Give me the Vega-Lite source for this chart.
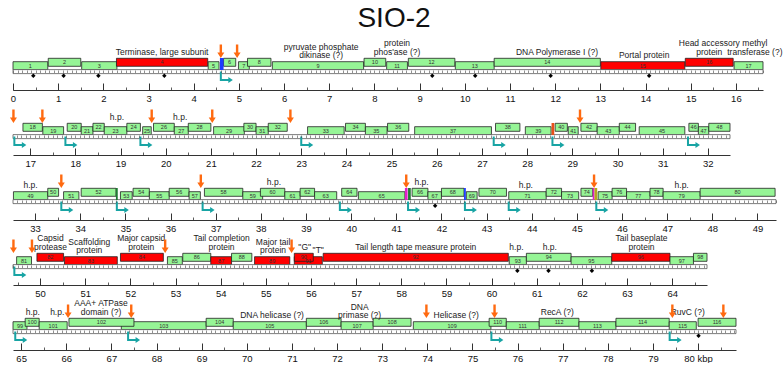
{
"$schema": "https://vega.github.io/schema/vega-lite/v6.json",
"background": "white",
"padding": {"left": 9, "top": 5, "right": 0, "bottom": 0},
"title": {"text": "SIO-2", "fontSize": 28, "fontWeight": "normal", "font": "Liberation Sans", "anchor": "start", "align": "center", "dx": 381, "frame": "group", "offset": 4, "color": "#111"},
"config": {"font": "Liberation Sans", "view": {"stroke": null}},
"bounds": "flush",
"spacing": 0,
"datasets": {
"rows": [
{"row":1,"start":0,"end":16.6},
{"row":2,"start":16.62,"end":32.49},
{"row":3,"start":32.51,"end":49.41},
{"row":4,"start":49.4,"end":64.77},
{"row":5,"start":64.82,"end":80.84}
],
"genes": [
{"gene":1,"start":0.0,"end":0.77,"lane":0,"class":"other","row":1},
{"gene":2,"start":0.78,"end":1.5,"lane":1,"class":"other","row":1},
{"gene":3,"start":1.52,"end":2.3,"lane":0,"class":"other","row":1},
{"gene":4,"start":2.29,"end":4.31,"lane":1,"class":"structural","row":1},
{"gene":5,"start":4.32,"end":4.56,"lane":0,"class":"other","row":1},
{"gene":6,"start":4.66,"end":4.93,"lane":1,"class":"other","row":1},
{"gene":7,"start":4.99,"end":5.23,"lane":0,"class":"other","row":1},
{"gene":8,"start":5.19,"end":5.71,"lane":1,"class":"other","row":1},
{"gene":9,"start":5.74,"end":7.76,"lane":0,"class":"other","row":1},
{"gene":10,"start":7.77,"end":8.25,"lane":1,"class":"other","row":1},
{"gene":11,"start":8.27,"end":8.73,"lane":0,"class":"other","row":1},
{"gene":12,"start":8.75,"end":9.78,"lane":1,"class":"other","row":1},
{"gene":13,"start":9.79,"end":10.65,"lane":0,"class":"other","row":1},
{"gene":14,"start":10.65,"end":13.0,"lane":1,"class":"other","row":1},
{"gene":15,"start":13.01,"end":14.87,"lane":0,"class":"structural","row":1},
{"gene":16,"start":14.88,"end":15.94,"lane":1,"class":"structural","row":1},
{"gene":17,"start":15.96,"end":16.6,"lane":0,"class":"other","row":1},
{"gene":18,"start":16.84,"end":17.27,"lane":1,"class":"other","row":2},
{"gene":19,"start":17.28,"end":17.74,"lane":0,"class":"other","row":2},
{"gene":20,"start":17.82,"end":18.13,"lane":1,"class":"other","row":2},
{"gene":21,"start":18.13,"end":18.39,"lane":0,"class":"other","row":2},
{"gene":22,"start":18.39,"end":18.64,"lane":1,"class":"other","row":2},
{"gene":23,"start":18.64,"end":19.14,"lane":0,"class":"other","row":2},
{"gene":24,"start":19.14,"end":19.44,"lane":1,"class":"other","row":2},
{"gene":25,"start":19.49,"end":19.68,"lane":0,"class":"other","row":2},
{"gene":26,"start":19.73,"end":20.19,"lane":1,"class":"other","row":2},
{"gene":27,"start":20.19,"end":20.5,"lane":0,"class":"other","row":2},
{"gene":28,"start":20.5,"end":21.0,"lane":1,"class":"other","row":2},
{"gene":29,"start":21.06,"end":21.74,"lane":0,"class":"other","row":2},
{"gene":30,"start":21.73,"end":22.0,"lane":1,"class":"other","row":2},
{"gene":31,"start":22.0,"end":22.27,"lane":0,"class":"other","row":2},
{"gene":32,"start":22.27,"end":22.69,"lane":1,"class":"other","row":2},
{"gene":33,"start":23.14,"end":23.95,"lane":0,"class":"other","row":2},
{"gene":34,"start":23.98,"end":24.42,"lane":1,"class":"other","row":2},
{"gene":35,"start":24.42,"end":24.9,"lane":0,"class":"other","row":2},
{"gene":36,"start":24.91,"end":25.38,"lane":1,"class":"other","row":2},
{"gene":37,"start":25.51,"end":27.21,"lane":0,"class":"other","row":2},
{"gene":38,"start":27.3,"end":27.84,"lane":1,"class":"other","row":2},
{"gene":39,"start":27.96,"end":28.53,"lane":0,"class":"other","row":2},
{"gene":40,"start":28.62,"end":28.89,"lane":1,"class":"other","row":2},
{"gene":41,"start":28.91,"end":29.13,"lane":0,"class":"other","row":2},
{"gene":42,"start":29.19,"end":29.55,"lane":1,"class":"other","row":2},
{"gene":43,"start":29.55,"end":30.04,"lane":0,"class":"other","row":2},
{"gene":44,"start":30.04,"end":30.4,"lane":1,"class":"other","row":2},
{"gene":45,"start":30.48,"end":31.49,"lane":0,"class":"other","row":2},
{"gene":46,"start":31.58,"end":31.79,"lane":1,"class":"other","row":2},
{"gene":47,"start":31.79,"end":32.02,"lane":0,"class":"other","row":2},
{"gene":48,"start":32.02,"end":32.49,"lane":1,"class":"other","row":2},
{"gene":49,"start":32.52,"end":33.28,"lane":0,"class":"other","row":3},
{"gene":50,"start":33.28,"end":33.52,"lane":1,"class":"other","row":3},
{"gene":51,"start":33.63,"end":33.97,"lane":0,"class":"other","row":3},
{"gene":52,"start":34.02,"end":34.79,"lane":1,"class":"other","row":3},
{"gene":53,"start":34.89,"end":35.15,"lane":0,"class":"other","row":3},
{"gene":54,"start":35.17,"end":35.53,"lane":1,"class":"other","row":3},
{"gene":55,"start":35.53,"end":35.97,"lane":0,"class":"other","row":3},
{"gene":56,"start":35.97,"end":36.41,"lane":1,"class":"other","row":3},
{"gene":57,"start":36.41,"end":36.66,"lane":0,"class":"other","row":3},
{"gene":58,"start":36.75,"end":37.6,"lane":1,"class":"other","row":3},
{"gene":59,"start":37.6,"end":38.04,"lane":0,"class":"other","row":3},
{"gene":60,"start":37.99,"end":38.53,"lane":1,"class":"other","row":3},
{"gene":61,"start":38.53,"end":38.87,"lane":0,"class":"other","row":3},
{"gene":62,"start":38.87,"end":39.19,"lane":1,"class":"other","row":3},
{"gene":63,"start":39.19,"end":39.68,"lane":0,"class":"other","row":3},
{"gene":64,"start":39.79,"end":40.13,"lane":1,"class":"other","row":3},
{"gene":65,"start":40.16,"end":41.19,"lane":0,"class":"other","row":3},
{"gene":66,"start":41.35,"end":41.7,"lane":1,"class":"other","row":3},
{"gene":67,"start":41.7,"end":42.0,"lane":0,"class":"other","row":3},
{"gene":68,"start":42.0,"end":42.5,"lane":1,"class":"other","row":3},
{"gene":69,"start":42.55,"end":42.79,"lane":0,"class":"other","row":3},
{"gene":70,"start":42.83,"end":43.44,"lane":1,"class":"other","row":3},
{"gene":71,"start":43.49,"end":44.32,"lane":0,"class":"other","row":3},
{"gene":72,"start":44.32,"end":44.66,"lane":1,"class":"other","row":3},
{"gene":73,"start":44.66,"end":45.04,"lane":0,"class":"other","row":3},
{"gene":74,"start":45.09,"end":45.35,"lane":1,"class":"other","row":3},
{"gene":75,"start":45.47,"end":45.78,"lane":0,"class":"other","row":3},
{"gene":76,"start":45.78,"end":46.1,"lane":1,"class":"other","row":3},
{"gene":77,"start":46.1,"end":46.62,"lane":0,"class":"other","row":3},
{"gene":78,"start":46.62,"end":46.91,"lane":1,"class":"other","row":3},
{"gene":79,"start":46.91,"end":47.73,"lane":0,"class":"other","row":3},
{"gene":80,"start":47.73,"end":49.39,"lane":1,"class":"other","row":3},
{"gene":81,"start":49.48,"end":49.81,"lane":0,"class":"other","row":4},
{"gene":82,"start":49.93,"end":50.52,"lane":1,"class":"structural","row":4},
{"gene":83,"start":50.54,"end":51.71,"lane":0,"class":"structural","row":4},
{"gene":84,"start":51.78,"end":52.73,"lane":1,"class":"structural","row":4},
{"gene":85,"start":52.82,"end":53.15,"lane":0,"class":"other","row":4},
{"gene":86,"start":53.16,"end":53.78,"lane":1,"class":"other","row":4},
{"gene":87,"start":53.78,"end":54.24,"lane":0,"class":"structural","row":4},
{"gene":88,"start":54.24,"end":54.69,"lane":1,"class":"other","row":4},
{"gene":89,"start":54.75,"end":55.53,"lane":0,"class":"structural","row":4},
{"gene":91,"start":55.63,"end":56.25,"lane":0,"class":"structural","row":4},
{"gene":90,"start":55.63,"end":56.05,"lane":1,"class":"structural","row":4},
{"gene":92,"start":56.27,"end":60.37,"lane":1,"class":"structural","row":4},
{"gene":93,"start":60.39,"end":60.77,"lane":0,"class":"other","row":4},
{"gene":94,"start":60.77,"end":61.76,"lane":1,"class":"other","row":4},
{"gene":95,"start":61.76,"end":62.66,"lane":0,"class":"other","row":4},
{"gene":96,"start":62.66,"end":63.95,"lane":1,"class":"structural","row":4},
{"gene":97,"start":63.95,"end":64.47,"lane":0,"class":"other","row":4},
{"gene":98,"start":64.47,"end":64.77,"lane":1,"class":"other","row":4},
{"gene":99,"start":64.82,"end":65.13,"lane":0,"class":"other","row":5},
{"gene":100,"start":65.09,"end":65.4,"lane":1,"class":"other","row":5},
{"gene":101,"start":65.4,"end":66.02,"lane":0,"class":"other","row":5},
{"gene":103,"start":67.22,"end":69.1,"lane":0,"class":"other","row":5},
{"gene":102,"start":66.06,"end":67.5,"lane":1,"class":"other","row":5},
{"gene":104,"start":69.1,"end":69.7,"lane":1,"class":"other","row":5},
{"gene":105,"start":69.7,"end":71.32,"lane":0,"class":"other","row":5},
{"gene":106,"start":71.32,"end":72.09,"lane":1,"class":"other","row":5},
{"gene":107,"start":72.09,"end":72.8,"lane":0,"class":"other","row":5},
{"gene":108,"start":72.8,"end":73.64,"lane":1,"class":"other","row":5},
{"gene":109,"start":73.69,"end":75.41,"lane":0,"class":"other","row":5},
{"gene":110,"start":75.37,"end":75.75,"lane":1,"class":"other","row":5},
{"gene":111,"start":75.75,"end":76.48,"lane":0,"class":"other","row":5},
{"gene":112,"start":76.48,"end":77.36,"lane":1,"class":"other","row":5},
{"gene":113,"start":77.36,"end":78.18,"lane":0,"class":"other","row":5},
{"gene":114,"start":78.18,"end":79.36,"lane":1,"class":"other","row":5},
{"gene":115,"start":79.36,"end":79.96,"lane":0,"class":"other","row":5},
{"gene":116,"start":80.0,"end":80.84,"lane":1,"class":"other","row":5}
],
"trna": [
{"start":4.58,"end":4.66,"class":"tRNA-1","row":1},
{"start":28.54,"end":28.6,"class":"tRNA-2","row":2},
{"start":34.79,"end":34.83,"class":"tRNA-4","row":3},
{"start":41.19,"end":41.25,"class":"tRNA-3","row":3},
{"start":41.26,"end":41.32,"class":"tRNA-4","row":3},
{"start":42.5,"end":42.54,"class":"tRNA-1","row":3},
{"start":45.35,"end":45.39,"class":"tRNA-3","row":3},
{"start":45.39,"end":45.45,"class":"tRNA-5","row":3}
],
"labels": [
{"text":["Terminase, large subunit"],"pos":3.3,"lane":1,"row":1},
{"text":["pyruvate phosphate","dikinase (?)"],"pos":6.82,"lane":0,"row":1},
{"text":["protein","phos'ase (?)"],"pos":8.5,"lane":1,"row":1},
{"text":["DNA Polymerase I (?)"],"pos":12.04,"lane":1,"row":1},
{"text":["Portal protein"],"pos":13.97,"lane":0,"row":1},
{"text":["Head accessory","protein"],"pos":15.41,"lane":1,"row":1},
{"text":["methyl","transferase (?)"],"pos":16.42,"lane":1,"row":1},
{"text":["h.p."],"pos":18.92,"lane":1,"row":2},
{"text":["h.p."],"pos":20.32,"lane":1,"row":2},
{"text":["h.p."],"pos":32.9,"lane":0,"row":3},
{"text":["h.p."],"pos":38.29,"lane":1,"row":3},
{"text":["h.p."],"pos":41.56,"lane":1,"row":3},
{"text":["h.p."],"pos":43.87,"lane":0,"row":3},
{"text":["h.p."],"pos":47.32,"lane":0,"row":3},
{"text":["Capsid","protease"],"pos":50.23,"lane":1,"row":4},
{"text":["Scaffolding","protein"],"pos":51.09,"lane":0,"row":4},
{"text":["Major capsid","protein"],"pos":52.24,"lane":1,"row":4},
{"text":["Tail completion","protein"],"pos":54.02,"lane":1,"row":4},
{"text":["Major tail","protein"],"pos":55.16,"lane":0,"row":4},
{"text":["\"G\""],"pos":55.86,"lane":1,"row":4},
{"text":["\"T\""],"pos":56.16,"lane":0,"row":4},
{"text":["Tail length tape measure protein"],"pos":58.32,"lane":1,"row":4},
{"text":["h.p."],"pos":60.55,"lane":1,"row":4},
{"text":["h.p."],"pos":61.29,"lane":1,"row":4},
{"text":["Tail baseplate","protein"],"pos":63.32,"lane":1,"row":4},
{"text":["h.p."],"pos":65.26,"lane":1,"row":5},
{"text":["h.p."],"pos":65.8,"lane":1,"row":5},
{"text":["AAA+ ATPase","domain (?)"],"pos":66.77,"lane":1,"row":5},
{"text":["DNA helicase (?)"],"pos":70.56,"lane":0,"row":5},
{"text":["DNA","primase (?)"],"pos":72.5,"lane":0,"row":5},
{"text":["Helicase (?)"],"pos":74.64,"lane":0,"row":5},
{"text":["RecA (?)"],"pos":76.88,"lane":1,"row":5},
{"text":["RuvC (?)"],"pos":79.77,"lane":1,"row":5}
],
"sites": [
{"pos":4.6,"row":1},{"pos":4.96,"row":1},
{"pos":16.63,"row":2},{"pos":17.27,"row":2},{"pos":19.69,"row":2},{"pos":21.03,"row":2},{"pos":22.76,"row":2},{"pos":29.17,"row":2},
{"pos":33.58,"row":3},{"pos":36.67,"row":3},{"pos":41.22,"row":3},{"pos":45.38,"row":3},
{"pos":49.41,"row":4},{"pos":49.82,"row":4},{"pos":52.77,"row":4},{"pos":55.57,"row":4},
{"pos":66.04,"row":5},{"pos":67.44,"row":5},{"pos":73.98,"row":5},{"pos":75.49,"row":5},{"pos":79.43,"row":5},{"pos":80.56,"row":5}
],
"promoters": [
{"pos":4.6,"row":1},
{"pos":16.65,"row":2},{"pos":17.78,"row":2},{"pos":19.44,"row":2},{"pos":23.0,"row":2},{"pos":27.26,"row":2},{"pos":28.56,"row":2},{"pos":31.56,"row":2},
{"pos":33.58,"row":3},{"pos":34.81,"row":3},{"pos":36.71,"row":3},{"pos":39.75,"row":3},{"pos":41.26,"row":3},{"pos":42.52,"row":3},{"pos":43.49,"row":3},{"pos":45.43,"row":3},
{"pos":49.43,"row":4},
{"pos":64.87,"row":5},{"pos":67.37,"row":5},{"pos":75.42,"row":5},{"pos":79.37,"row":5}
],
"diamonds": [
{"pos":0.45,"row":1},{"pos":1.12,"row":1},{"pos":1.89,"row":1},{"pos":3.35,"row":1},{"pos":9.28,"row":1},{"pos":10.23,"row":1},{"pos":11.9,"row":1},{"pos":14.08,"row":1},
{"pos":41.86,"row":3},
{"pos":60.57,"row":4},{"pos":61.26,"row":4},{"pos":62.22,"row":4},
{"pos":80.01,"row":5}
]
},
"vconcat": [
{
"width": 750, "height": 65,
"resolve": {"axis": {"x": "independent"}},
"layer": [
{"data": {"name": "genes"}, "transform": [{"filter": "datum.row == 1"}],
 "mark": {"type": "bar", "height": 8, "stroke": "#222", "strokeWidth": 0.8},
 "encoding": {
  "x": {"field": "start", "type": "quantitative", "scale": {"domain": [0, 16.6], "nice": false, "zero": false},
        "axis": {"orient": "bottom", "offset": -12, "values": [0,1,2,3,4,5,6,7,8,9,10,11,12,13,14,15,16], "tickSize": -7, "tickWidth": 1, "tickColor": "#333", "domainColor": "#333", "domainWidth": 1, "labelPadding": 10, "labelFontSize": 9.5, "labelColor": "#111", "title": null, "grid": false, "labelOverlap": false, "labelFlush": false}},
  "x2": {"field": "end"},
  "y": {"field": "lane", "type": "quantitative", "scale": {"domain": [-9.25, 7], "nice": false, "zero": false}, "axis": null},
  "color": {"field": "class", "type": "nominal", "legend": null, "scale": {"domain": ["structural","other","tRNA-1","tRNA-2","tRNA-3","tRNA-4","tRNA-5"], "range": ["#ff0000","#96f596","#1d3cff","#e8501a","#e020c8","#1e7a32","#b4a81e"]}}
 }},
{"data": {"name": "rows"}, "transform": [{"filter": "datum.row == 1"}],
 "mark": {"type": "bar", "height": 4, "fill": "white", "stroke": "#444", "strokeWidth": 0.7},
 "encoding": {
  "x": {"field": "start", "type": "quantitative", "axis": {"orient": "bottom", "offset": -32, "tickCount": 166, "tickSize": 2.5, "tickWidth": 0.6, "tickColor": "#444", "domain": false, "labels": false, "title": null, "grid": false, "zindex": 1}},
  "x2": {"field": "end"},
  "y": {"datum": -1.75, "type": "quantitative", "axis": null}
 }},
{"data": {"name": "trna"}, "transform": [{"filter": "datum.row == 1"}],
 "mark": {"type": "bar", "height": 12},
 "encoding": {
  "x": {"field": "start", "type": "quantitative", "axis": {"orient": "bottom", "offset": -12, "tickCount": 33, "tickSize": -3, "tickWidth": 0.8, "tickColor": "#333", "domain": false, "labels": false, "title": null, "grid": false}},
  "x2": {"field": "end"},
  "y": {"datum": 0.5, "type": "quantitative", "axis": null},
  "color": {"field": "class", "type": "nominal", "legend": null, "scale": {"domain": ["structural","other","tRNA-1","tRNA-2","tRNA-3","tRNA-4","tRNA-5"], "range": ["#ff0000","#96f596","#1d3cff","#e8501a","#e020c8","#1e7a32","#b4a81e"]}}
 }},
{"data": {"name": "genes"}, "transform": [{"filter": "datum.row == 1"}, {"calculate": "(datum.start + datum.end) / 2", "as": "mid"}],
 "mark": {"type": "text", "fontSize": 5.5, "color": "#333"},
 "encoding": {"x": {"field": "mid", "type": "quantitative", "axis": null}, "y": {"field": "lane", "type": "quantitative", "axis": null}, "text": {"field": "gene", "type": "nominal"}}},
{"data": {"name": "labels"}, "transform": [{"filter": "datum.row == 1 && length(datum.text) == 1"}],
 "mark": {"type": "text", "fontSize": 8.5, "lineHeight": 8.5, "baseline": "bottom", "dy": -5.5, "color": "#222"},
 "encoding": {"x": {"field": "pos", "type": "quantitative", "axis": null}, "y": {"field": "lane", "type": "quantitative", "axis": null}, "text": {"field": "text", "type": "nominal"}}},
{"data": {"name": "labels"}, "transform": [{"filter": "datum.row == 1 && length(datum.text) == 2"}],
 "mark": {"type": "text", "fontSize": 8.5, "lineHeight": 8.5, "baseline": "bottom", "dy": -14, "color": "#222"},
 "encoding": {"x": {"field": "pos", "type": "quantitative", "axis": null}, "y": {"field": "lane", "type": "quantitative", "axis": null}, "text": {"field": "text", "type": "nominal"}}},
{"data": {"name": "sites"}, "transform": [{"filter": "datum.row == 1"}],
 "mark": {"type": "point", "shape": "M-0.12,-1.35L0.12,-1.35L0.12,-0.55L0.35,-0.55L0,0L-0.35,-0.55L-0.12,-0.55Z", "size": 400, "filled": true, "color": "#ff6a10", "opacity": 1, "strokeWidth": 0},
 "encoding": {"x": {"field": "pos", "type": "quantitative", "axis": null}, "y": {"datum": 2.25, "type": "quantitative", "axis": null}}},
{"data": {"name": "promoters"}, "transform": [{"filter": "datum.row == 1"}],
 "mark": {"type": "point", "shape": "M-0.1,-0.85L0.1,-0.85L0.1,-0.1L0.75,-0.1L0.75,-0.3L1.2,0L0.75,0.3L0.75,0.1L-0.1,0.1Z", "size": 400, "filled": true, "color": "#18a4a4", "opacity": 1, "strokeWidth": 0},
 "encoding": {"x": {"field": "pos", "type": "quantitative", "axis": null}, "y": {"datum": -4.25, "type": "quantitative", "axis": null}}},
{"data": {"name": "diamonds"}, "transform": [{"filter": "datum.row == 1"}],
 "mark": {"type": "point", "shape": "diamond", "size": 20, "filled": true, "color": "#000", "opacity": 1},
 "encoding": {"x": {"field": "pos", "type": "quantitative", "axis": null}, "y": {"datum": -3, "type": "quantitative", "axis": null}}}
]
},
{
"width": 717, "height": 65,
"resolve": {"axis": {"x": "independent"}},
"layer": [
{"data": {"name": "genes"}, "transform": [{"filter": "datum.row == 2"}],
 "mark": {"type": "bar", "height": 8, "stroke": "#222", "strokeWidth": 0.8},
 "encoding": {
  "x": {"field": "start", "type": "quantitative", "scale": {"domain": [16.62, 32.49], "nice": false, "zero": false},
        "axis": {"orient": "bottom", "offset": -12, "values": [17,18,19,20,21,22,23,24,25,26,27,28,29,30,31,32], "tickSize": -7, "tickWidth": 1, "tickColor": "#333", "domainColor": "#333", "domainWidth": 1, "labelPadding": 10, "labelFontSize": 9.5, "labelColor": "#111", "title": null, "grid": false, "labelOverlap": false, "labelFlush": false}},
  "x2": {"field": "end"},
  "y": {"field": "lane", "type": "quantitative", "scale": {"domain": [-9.25, 7], "nice": false, "zero": false}, "axis": null},
  "color": {"field": "class", "type": "nominal", "legend": null, "scale": {"domain": ["structural","other","tRNA-1","tRNA-2","tRNA-3","tRNA-4","tRNA-5"], "range": ["#ff0000","#96f596","#1d3cff","#e8501a","#e020c8","#1e7a32","#b4a81e"]}}
 }},
{"data": {"name": "rows"}, "transform": [{"filter": "datum.row == 2"}],
 "mark": {"type": "bar", "height": 4, "fill": "white", "stroke": "#444", "strokeWidth": 0.7},
 "encoding": {
  "x": {"field": "start", "type": "quantitative", "axis": {"orient": "bottom", "offset": -32, "tickCount": 159, "tickSize": 2.5, "tickWidth": 0.6, "tickColor": "#444", "domain": false, "labels": false, "title": null, "grid": false, "zindex": 1}},
  "x2": {"field": "end"},
  "y": {"datum": -1.75, "type": "quantitative", "axis": null}
 }},
{"data": {"name": "trna"}, "transform": [{"filter": "datum.row == 2"}],
 "mark": {"type": "bar", "height": 12},
 "encoding": {
  "x": {"field": "start", "type": "quantitative", "axis": {"orient": "bottom", "offset": -12, "tickCount": 32, "tickSize": -3, "tickWidth": 0.8, "tickColor": "#333", "domain": false, "labels": false, "title": null, "grid": false}},
  "x2": {"field": "end"},
  "y": {"datum": 0.5, "type": "quantitative", "axis": null},
  "color": {"field": "class", "type": "nominal", "legend": null, "scale": {"domain": ["structural","other","tRNA-1","tRNA-2","tRNA-3","tRNA-4","tRNA-5"], "range": ["#ff0000","#96f596","#1d3cff","#e8501a","#e020c8","#1e7a32","#b4a81e"]}}
 }},
{"data": {"name": "genes"}, "transform": [{"filter": "datum.row == 2"}, {"calculate": "(datum.start + datum.end) / 2", "as": "mid"}],
 "mark": {"type": "text", "fontSize": 5.5, "color": "#333"},
 "encoding": {"x": {"field": "mid", "type": "quantitative", "axis": null}, "y": {"field": "lane", "type": "quantitative", "axis": null}, "text": {"field": "gene", "type": "nominal"}}},
{"data": {"name": "labels"}, "transform": [{"filter": "datum.row == 2 && length(datum.text) == 1"}],
 "mark": {"type": "text", "fontSize": 8.5, "lineHeight": 8.5, "baseline": "bottom", "dy": -5.5, "color": "#222"},
 "encoding": {"x": {"field": "pos", "type": "quantitative", "axis": null}, "y": {"field": "lane", "type": "quantitative", "axis": null}, "text": {"field": "text", "type": "nominal"}}},
{"data": {"name": "sites"}, "transform": [{"filter": "datum.row == 2"}],
 "mark": {"type": "point", "shape": "M-0.12,-1.35L0.12,-1.35L0.12,-0.55L0.35,-0.55L0,0L-0.35,-0.55L-0.12,-0.55Z", "size": 400, "filled": true, "color": "#ff6a10", "opacity": 1, "strokeWidth": 0},
 "encoding": {"x": {"field": "pos", "type": "quantitative", "axis": null}, "y": {"datum": 2.25, "type": "quantitative", "axis": null}}},
{"data": {"name": "promoters"}, "transform": [{"filter": "datum.row == 2"}],
 "mark": {"type": "point", "shape": "M-0.1,-0.85L0.1,-0.85L0.1,-0.1L0.75,-0.1L0.75,-0.3L1.2,0L0.75,0.3L0.75,0.1L-0.1,0.1Z", "size": 400, "filled": true, "color": "#18a4a4", "opacity": 1, "strokeWidth": 0},
 "encoding": {"x": {"field": "pos", "type": "quantitative", "axis": null}, "y": {"datum": -4.25, "type": "quantitative", "axis": null}}}
]
},
{
"width": 763, "height": 65,
"resolve": {"axis": {"x": "independent"}},
"layer": [
{"data": {"name": "genes"}, "transform": [{"filter": "datum.row == 3"}],
 "mark": {"type": "bar", "height": 8, "stroke": "#222", "strokeWidth": 0.8},
 "encoding": {
  "x": {"field": "start", "type": "quantitative", "scale": {"domain": [32.51, 49.41], "nice": false, "zero": false},
        "axis": {"orient": "bottom", "offset": -12, "values": [33,34,35,36,37,38,39,40,41,42,43,44,45,46,47,48,49], "tickSize": -7, "tickWidth": 1, "tickColor": "#333", "domainColor": "#333", "domainWidth": 1, "labelPadding": 10, "labelFontSize": 9.5, "labelColor": "#111", "title": null, "grid": false, "labelOverlap": false, "labelFlush": false}},
  "x2": {"field": "end"},
  "y": {"field": "lane", "type": "quantitative", "scale": {"domain": [-9.25, 7], "nice": false, "zero": false}, "axis": null},
  "color": {"field": "class", "type": "nominal", "legend": null, "scale": {"domain": ["structural","other","tRNA-1","tRNA-2","tRNA-3","tRNA-4","tRNA-5"], "range": ["#ff0000","#96f596","#1d3cff","#e8501a","#e020c8","#1e7a32","#b4a81e"]}}
 }},
{"data": {"name": "rows"}, "transform": [{"filter": "datum.row == 3"}],
 "mark": {"type": "bar", "height": 4, "fill": "white", "stroke": "#444", "strokeWidth": 0.7},
 "encoding": {
  "x": {"field": "start", "type": "quantitative", "axis": {"orient": "bottom", "offset": -32, "tickCount": 169, "tickSize": 2.5, "tickWidth": 0.6, "tickColor": "#444", "domain": false, "labels": false, "title": null, "grid": false, "zindex": 1}},
  "x2": {"field": "end"},
  "y": {"datum": -1.75, "type": "quantitative", "axis": null}
 }},
{"data": {"name": "trna"}, "transform": [{"filter": "datum.row == 3"}],
 "mark": {"type": "bar", "height": 12},
 "encoding": {
  "x": {"field": "start", "type": "quantitative", "axis": {"orient": "bottom", "offset": -12, "tickCount": 34, "tickSize": -3, "tickWidth": 0.8, "tickColor": "#333", "domain": false, "labels": false, "title": null, "grid": false}},
  "x2": {"field": "end"},
  "y": {"datum": 0.5, "type": "quantitative", "axis": null},
  "color": {"field": "class", "type": "nominal", "legend": null, "scale": {"domain": ["structural","other","tRNA-1","tRNA-2","tRNA-3","tRNA-4","tRNA-5"], "range": ["#ff0000","#96f596","#1d3cff","#e8501a","#e020c8","#1e7a32","#b4a81e"]}}
 }},
{"data": {"name": "genes"}, "transform": [{"filter": "datum.row == 3"}, {"calculate": "(datum.start + datum.end) / 2", "as": "mid"}],
 "mark": {"type": "text", "fontSize": 5.5, "color": "#333"},
 "encoding": {"x": {"field": "mid", "type": "quantitative", "axis": null}, "y": {"field": "lane", "type": "quantitative", "axis": null}, "text": {"field": "gene", "type": "nominal"}}},
{"data": {"name": "labels"}, "transform": [{"filter": "datum.row == 3 && length(datum.text) == 1"}],
 "mark": {"type": "text", "fontSize": 8.5, "lineHeight": 8.5, "baseline": "bottom", "dy": -5.5, "color": "#222"},
 "encoding": {"x": {"field": "pos", "type": "quantitative", "axis": null}, "y": {"field": "lane", "type": "quantitative", "axis": null}, "text": {"field": "text", "type": "nominal"}}},
{"data": {"name": "sites"}, "transform": [{"filter": "datum.row == 3"}],
 "mark": {"type": "point", "shape": "M-0.12,-1.35L0.12,-1.35L0.12,-0.55L0.35,-0.55L0,0L-0.35,-0.55L-0.12,-0.55Z", "size": 400, "filled": true, "color": "#ff6a10", "opacity": 1, "strokeWidth": 0},
 "encoding": {"x": {"field": "pos", "type": "quantitative", "axis": null}, "y": {"datum": 2.25, "type": "quantitative", "axis": null}}},
{"data": {"name": "promoters"}, "transform": [{"filter": "datum.row == 3"}],
 "mark": {"type": "point", "shape": "M-0.1,-0.85L0.1,-0.85L0.1,-0.1L0.75,-0.1L0.75,-0.3L1.2,0L0.75,0.3L0.75,0.1L-0.1,0.1Z", "size": 400, "filled": true, "color": "#18a4a4", "opacity": 1, "strokeWidth": 0},
 "encoding": {"x": {"field": "pos", "type": "quantitative", "axis": null}, "y": {"datum": -4.25, "type": "quantitative", "axis": null}}},
{"data": {"name": "diamonds"}, "transform": [{"filter": "datum.row == 3"}],
 "mark": {"type": "point", "shape": "diamond", "size": 20, "filled": true, "color": "#000", "opacity": 1},
 "encoding": {"x": {"field": "pos", "type": "quantitative", "axis": null}, "y": {"datum": -3, "type": "quantitative", "axis": null}}}
]
},
{
"width": 694, "height": 65,
"resolve": {"axis": {"x": "independent"}},
"layer": [
{"data": {"name": "genes"}, "transform": [{"filter": "datum.row == 4"}],
 "mark": {"type": "bar", "height": 8, "stroke": "#222", "strokeWidth": 0.8},
 "encoding": {
  "x": {"field": "start", "type": "quantitative", "scale": {"domain": [49.4, 64.77], "nice": false, "zero": false},
        "axis": {"orient": "bottom", "offset": -12, "values": [50,51,52,53,54,55,56,57,58,59,60,61,62,63,64], "tickSize": -7, "tickWidth": 1, "tickColor": "#333", "domainColor": "#333", "domainWidth": 1, "labelPadding": 10, "labelFontSize": 9.5, "labelColor": "#111", "title": null, "grid": false, "labelOverlap": false, "labelFlush": false}},
  "x2": {"field": "end"},
  "y": {"field": "lane", "type": "quantitative", "scale": {"domain": [-9.25, 7], "nice": false, "zero": false}, "axis": null},
  "color": {"field": "class", "type": "nominal", "legend": null, "scale": {"domain": ["structural","other","tRNA-1","tRNA-2","tRNA-3","tRNA-4","tRNA-5"], "range": ["#ff0000","#96f596","#1d3cff","#e8501a","#e020c8","#1e7a32","#b4a81e"]}}
 }},
{"data": {"name": "rows"}, "transform": [{"filter": "datum.row == 4"}],
 "mark": {"type": "bar", "height": 4, "fill": "white", "stroke": "#444", "strokeWidth": 0.7},
 "encoding": {
  "x": {"field": "start", "type": "quantitative", "axis": {"orient": "bottom", "offset": -32, "tickCount": 154, "tickSize": 2.5, "tickWidth": 0.6, "tickColor": "#444", "domain": false, "labels": false, "title": null, "grid": false, "zindex": 1}},
  "x2": {"field": "end"},
  "y": {"datum": -1.75, "type": "quantitative", "axis": null}
 }},
{"data": {"name": "genes"}, "transform": [{"filter": "datum.row == 4"}, {"calculate": "(datum.start + datum.end) / 2", "as": "mid"}],
 "mark": {"type": "text", "fontSize": 5.5, "color": "#333"},
 "encoding": {"x": {"field": "mid", "type": "quantitative", "axis": {"orient": "bottom", "offset": -12, "tickCount": 31, "tickSize": -3, "tickWidth": 0.8, "tickColor": "#333", "domain": false, "labels": false, "title": null, "grid": false}}, "y": {"field": "lane", "type": "quantitative", "axis": null}, "text": {"field": "gene", "type": "nominal"}}},
{"data": {"name": "labels"}, "transform": [{"filter": "datum.row == 4 && length(datum.text) == 1"}],
 "mark": {"type": "text", "fontSize": 8.5, "lineHeight": 8.5, "baseline": "bottom", "dy": -5.5, "color": "#222"},
 "encoding": {"x": {"field": "pos", "type": "quantitative", "axis": null}, "y": {"field": "lane", "type": "quantitative", "axis": null}, "text": {"field": "text", "type": "nominal"}}},
{"data": {"name": "labels"}, "transform": [{"filter": "datum.row == 4 && length(datum.text) == 2"}],
 "mark": {"type": "text", "fontSize": 8.5, "lineHeight": 8.5, "baseline": "bottom", "dy": -14, "color": "#222"},
 "encoding": {"x": {"field": "pos", "type": "quantitative", "axis": null}, "y": {"field": "lane", "type": "quantitative", "axis": null}, "text": {"field": "text", "type": "nominal"}}},
{"data": {"name": "sites"}, "transform": [{"filter": "datum.row == 4"}],
 "mark": {"type": "point", "shape": "M-0.12,-1.35L0.12,-1.35L0.12,-0.55L0.35,-0.55L0,0L-0.35,-0.55L-0.12,-0.55Z", "size": 400, "filled": true, "color": "#ff6a10", "opacity": 1, "strokeWidth": 0},
 "encoding": {"x": {"field": "pos", "type": "quantitative", "axis": null}, "y": {"datum": 2.25, "type": "quantitative", "axis": null}}},
{"data": {"name": "promoters"}, "transform": [{"filter": "datum.row == 4"}],
 "mark": {"type": "point", "shape": "M-0.1,-0.85L0.1,-0.85L0.1,-0.1L0.75,-0.1L0.75,-0.3L1.2,0L0.75,0.3L0.75,0.1L-0.1,0.1Z", "size": 400, "filled": true, "color": "#18a4a4", "opacity": 1, "strokeWidth": 0},
 "encoding": {"x": {"field": "pos", "type": "quantitative", "axis": null}, "y": {"datum": -4.25, "type": "quantitative", "axis": null}}},
{"data": {"name": "diamonds"}, "transform": [{"filter": "datum.row == 4"}],
 "mark": {"type": "point", "shape": "diamond", "size": 20, "filled": true, "color": "#000", "opacity": 1},
 "encoding": {"x": {"field": "pos", "type": "quantitative", "axis": null}, "y": {"datum": -3, "type": "quantitative", "axis": null}}}
]
},
{
"width": 723, "height": 65,
"resolve": {"axis": {"x": "independent"}},
"layer": [
{"data": {"name": "genes"}, "transform": [{"filter": "datum.row == 5"}],
 "mark": {"type": "bar", "height": 8, "stroke": "#222", "strokeWidth": 0.8},
 "encoding": {
  "x": {"field": "start", "type": "quantitative", "scale": {"domain": [64.82, 80.84], "nice": false, "zero": false},
        "axis": {"orient": "bottom", "offset": -12, "values": [65,66,67,68,69,70,71,72,73,74,75,76,77,78,79,80], "labelExpr": "datum.value == 80 ? '80 kbp' : datum.label", "tickSize": -7, "tickWidth": 1, "tickColor": "#333", "domainColor": "#333", "domainWidth": 1, "labelPadding": 10, "labelFontSize": 9.5, "labelColor": "#111", "title": null, "grid": false, "labelOverlap": false, "labelFlush": false}},
  "x2": {"field": "end"},
  "y": {"field": "lane", "type": "quantitative", "scale": {"domain": [-9.25, 7], "nice": false, "zero": false}, "axis": null},
  "color": {"field": "class", "type": "nominal", "legend": null, "scale": {"domain": ["structural","other","tRNA-1","tRNA-2","tRNA-3","tRNA-4","tRNA-5"], "range": ["#ff0000","#96f596","#1d3cff","#e8501a","#e020c8","#1e7a32","#b4a81e"]}}
 }},
{"data": {"name": "rows"}, "transform": [{"filter": "datum.row == 5"}],
 "mark": {"type": "bar", "height": 4, "fill": "white", "stroke": "#444", "strokeWidth": 0.7},
 "encoding": {
  "x": {"field": "start", "type": "quantitative", "axis": {"orient": "bottom", "offset": -32, "tickCount": 160, "tickSize": 2.5, "tickWidth": 0.6, "tickColor": "#444", "domain": false, "labels": false, "title": null, "grid": false, "zindex": 1}},
  "x2": {"field": "end"},
  "y": {"datum": -1.75, "type": "quantitative", "axis": null}
 }},
{"data": {"name": "genes"}, "transform": [{"filter": "datum.row == 5"}, {"calculate": "(datum.start + datum.end) / 2", "as": "mid"}],
 "mark": {"type": "text", "fontSize": 5.5, "color": "#333"},
 "encoding": {"x": {"field": "mid", "type": "quantitative", "axis": {"orient": "bottom", "offset": -12, "tickCount": 32, "tickSize": -3, "tickWidth": 0.8, "tickColor": "#333", "domain": false, "labels": false, "title": null, "grid": false}}, "y": {"field": "lane", "type": "quantitative", "axis": null}, "text": {"field": "gene", "type": "nominal"}}},
{"data": {"name": "labels"}, "transform": [{"filter": "datum.row == 5 && length(datum.text) == 1"}],
 "mark": {"type": "text", "fontSize": 8.5, "lineHeight": 8.5, "baseline": "bottom", "dy": -5.5, "color": "#222"},
 "encoding": {"x": {"field": "pos", "type": "quantitative", "axis": null}, "y": {"field": "lane", "type": "quantitative", "axis": null}, "text": {"field": "text", "type": "nominal"}}},
{"data": {"name": "labels"}, "transform": [{"filter": "datum.row == 5 && length(datum.text) == 2"}],
 "mark": {"type": "text", "fontSize": 8.5, "lineHeight": 8.5, "baseline": "bottom", "dy": -14, "color": "#222"},
 "encoding": {"x": {"field": "pos", "type": "quantitative", "axis": null}, "y": {"field": "lane", "type": "quantitative", "axis": null}, "text": {"field": "text", "type": "nominal"}}},
{"data": {"name": "sites"}, "transform": [{"filter": "datum.row == 5"}],
 "mark": {"type": "point", "shape": "M-0.12,-1.35L0.12,-1.35L0.12,-0.55L0.35,-0.55L0,0L-0.35,-0.55L-0.12,-0.55Z", "size": 400, "filled": true, "color": "#ff6a10", "opacity": 1, "strokeWidth": 0},
 "encoding": {"x": {"field": "pos", "type": "quantitative", "axis": null}, "y": {"datum": 2.25, "type": "quantitative", "axis": null}}},
{"data": {"name": "promoters"}, "transform": [{"filter": "datum.row == 5"}],
 "mark": {"type": "point", "shape": "M-0.1,-0.85L0.1,-0.85L0.1,-0.1L0.75,-0.1L0.75,-0.3L1.2,0L0.75,0.3L0.75,0.1L-0.1,0.1Z", "size": 400, "filled": true, "color": "#18a4a4", "opacity": 1, "strokeWidth": 0},
 "encoding": {"x": {"field": "pos", "type": "quantitative", "axis": null}, "y": {"datum": -4.25, "type": "quantitative", "axis": null}}},
{"data": {"name": "diamonds"}, "transform": [{"filter": "datum.row == 5"}],
 "mark": {"type": "point", "shape": "diamond", "size": 20, "filled": true, "color": "#000", "opacity": 1},
 "encoding": {"x": {"field": "pos", "type": "quantitative", "axis": null}, "y": {"datum": -3, "type": "quantitative", "axis": null}}}
]
}
]
}
